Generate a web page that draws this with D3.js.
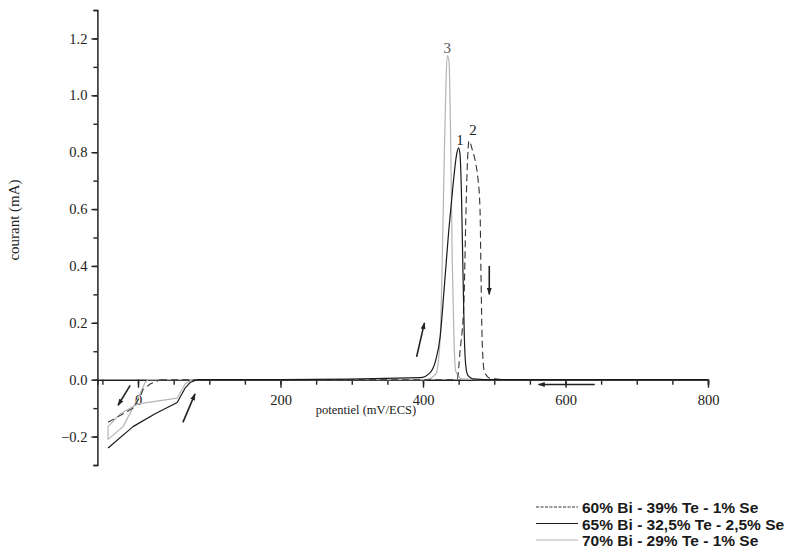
<!DOCTYPE html>
<html><head><meta charset="utf-8">
<script src="https://cdn.jsdelivr.net/npm/d3@7/dist/d3.min.js"></script>
<style>
html,body{margin:0;padding:0;background:#fff;}
svg{display:block;}
.ax text{font-family:"Liberation Serif","Times New Roman",serif;font-size:14.5px;fill:#222;}
</style></head>
<body><svg id="chart" width="799" height="554"></svg>
<script>
// ---- data (mV vs ECS, mA) ----
// cathodic region (negative currents near 0 mV)
const curve1NegPotential = [-42, -7, 24, 55, 66, 73, 83];
const curve1NegCurrent   = [-0.24, -0.165, -0.12, -0.08, -0.03, -0.01, 0];
const curve2NegPotential = [-42, -7, 3, 7, 17, 31];
const curve2NegCurrent   = [-0.15, -0.10, -0.06, -0.035, -0.015, 0];
const curve3NegPotential = [76, 66, 55, 0, -25, -42, -42, -21, -1, 10, 14];
const curve3NegCurrent   = [0, -0.015, -0.065, -0.085, -0.12, -0.165, -0.21, -0.165, -0.07, -0.01, 0];

// anodic stripping peaks
const curve1PeakPotential = [83, 200, 396, 410, 418, 424, 430, 436, 442, 447, 450, 452, 454, 456, 458, 460, 463, 470, 500, 800];
const curve1PeakCurrent   = [0, 0, 0.007, 0.025, 0.07, 0.15, 0.33, 0.52, 0.68, 0.79, 0.815, 0.79, 0.65, 0.39, 0.15, 0.05, 0.015, 0.003, 0, 0];
const curve2PeakPotential = [31, 200, 440, 448, 452, 457.5, 460, 462, 464.6, 469, 474, 477, 480, 481.5, 483, 486, 494, 520, 800];
const curve2PeakCurrent   = [0, 0, 0, 0.003, 0.10, 0.28, 0.56, 0.74, 0.84, 0.81, 0.76, 0.71, 0.60, 0.35, 0.14, 0.03, 0.005, 0, 0];
const curve3PeakPotential = [14, 200, 403, 418, 424, 427, 429.5, 432, 434, 436.5, 439, 441, 443.5, 446, 455, 500, 800];
const curve3PeakCurrent   = [0, 0, 0, 0.02, 0.14, 0.42, 0.74, 1.02, 1.14, 1.12, 0.81, 0.42, 0.14, 0.03, 0.003, 0, 0];

const legendLabels = ["60% Bi - 39% Te - 1% Se", "65% Bi - 32,5% Te - 2,5% Se", "70% Bi - 29% Te - 1% Se"];
const peakLabels = ["1", "2", "3"];
const xMajorTicks = [0, 200, 400, 600, 800];
const yMajorTicks = [-0.2, 0.0, 0.2, 0.4, 0.6, 0.8, 1.0, 1.2];

// ---- layout ----
const svg = d3.select("#chart");
const x = d3.scaleLinear().domain([-57, 800]).range([97.4, 708]);
const y = d3.scaleLinear().domain([-0.3, 1.3]).range([465, 10]);

const styles = [
  {stroke:"#333", width:1.1, dash:"7,4"},   // curve 2 / legend 1
  {stroke:"#1a1a1a", width:1.2, dash:null}, // curve 1 / legend 2
  {stroke:"#b5b5b5", width:1.2, dash:null}  // curve 3 / legend 3
];

// axes
const xMinor = d3.range(-50, 801, 50);
const gxMinor = svg.append("g").attr("class","ax").attr("transform",`translate(0,${y(0)})`)
  .call(d3.axisBottom(x).tickValues(xMinor).tickSize(5).tickFormat(""));
const gx = svg.append("g").attr("class","ax").attr("transform",`translate(0,${y(0)})`)
  .call(d3.axisBottom(x).tickValues(xMajorTicks).tickSize(8).tickPadding(7).tickFormat(d3.format("d")));
[gxMinor, gx].forEach(g=>{g.selectAll("path").attr("stroke","#222").attr("stroke-width",1.5);
  g.selectAll("line").attr("stroke","#222").attr("stroke-width",1.4);});
gx.select(".domain").remove();

const yMinor = d3.range(-3, 14).map(i=>i/10);
const gyMinor = svg.append("g").attr("class","ax").attr("transform",`translate(${x(-57)},0)`)
  .call(d3.axisLeft(y).tickValues(yMinor).tickSize(4).tickFormat(""));
const gy = svg.append("g").attr("class","ax").attr("transform",`translate(${x(-57)},0)`)
  .call(d3.axisLeft(y).tickValues(yMajorTicks).tickSize(6).tickPadding(4).tickFormat(d3.format(".1f")));
[gyMinor, gy].forEach(g=>{g.selectAll("path").attr("stroke","#222").attr("stroke-width",1.5);
  g.selectAll("line").attr("stroke","#222").attr("stroke-width",1.4);});
gy.select(".domain").remove();

// axis titles
svg.append("text").attr("x", 366).attr("y", 414).attr("text-anchor","middle")
  .style("font-family","'Liberation Serif','Times New Roman',serif").style("font-size","12.5px").attr("fill","#222")
  .text("potentiel (mV/ECS)");
svg.append("text").attr("transform","translate(19,220) rotate(-90)").attr("text-anchor","middle")
  .style("font-family","'Liberation Serif','Times New Roman',serif").style("font-size","15px").attr("fill","#222")
  .text("courant (mA)");

// curves
const negLine = d3.line().x(d=>x(d[0])).y(d=>y(d[1]));
const peakLine = d3.line().x(d=>x(d[0])).y(d=>y(d[1])).curve(d3.curveMonotoneX);
const curves = [
  {np:curve3NegPotential, nc:curve3NegCurrent, pp:curve3PeakPotential, pc:curve3PeakCurrent, s:styles[2]},
  {np:curve2NegPotential, nc:curve2NegCurrent, pp:curve2PeakPotential, pc:curve2PeakCurrent, s:styles[0]},
  {np:curve1NegPotential, nc:curve1NegCurrent, pp:curve1PeakPotential, pc:curve1PeakCurrent, s:styles[1]}
];
curves.forEach(cv=>{
  [[negLine, d3.zip(cv.np, cv.nc)], [peakLine, d3.zip(cv.pp, cv.pc)]].forEach(([gen, pts])=>{
    svg.append("path").datum(pts).attr("d", gen)
      .attr("fill","none").attr("stroke",cv.s.stroke).attr("stroke-width",cv.s.width)
      .attr("stroke-dasharray",cv.s.dash).attr("stroke-linejoin","round");
  });
});

// peak labels
const peakLabelPos = [[452, 0.825], [470, 0.86], [434, 1.15]];
peakLabels.forEach((t,i)=>{
  svg.append("text").attr("x", x(peakLabelPos[i][0])).attr("y", y(peakLabelPos[i][1]))
    .attr("text-anchor","middle").style("font-family","'Liberation Serif',serif").style("font-size","15px")
    .attr("fill", i===2 ? "#555" : "#222").text(t);
});

// arrows (data coordinates)
const arrows = [
  [[391, 0.08], [402, 0.20]],
  [[493, 0.40], [493, 0.30]],
  [[641, -0.017], [562, -0.017]],
  [[63, -0.15], [80, -0.05]],
  [[-11, -0.02], [-28, -0.09]]
];
svg.append("defs").append("marker").attr("id","ah").attr("viewBox","0 0 10 10")
  .attr("refX",9).attr("refY",5).attr("markerWidth",7).attr("markerHeight",7)
  .attr("orient","auto").attr("markerUnits","userSpaceOnUse")
  .append("path").attr("d","M0,1.5 L10,5 L0,8.5 Z").attr("fill","#222");
arrows.forEach(a=>{
  svg.append("line").attr("x1",x(a[0][0])).attr("y1",y(a[0][1])).attr("x2",x(a[1][0])).attr("y2",y(a[1][1]))
    .attr("stroke","#222").attr("stroke-width",1.6).attr("marker-end","url(#ah)");
});

// legend
legendLabels.forEach((t,i)=>{
  const yy = 507 + i*16.5;
  svg.append("line").attr("x1",536).attr("x2",578).attr("y1",yy).attr("y2",yy)
    .attr("stroke",styles[i].stroke).attr("stroke-width",1.1)
    .attr("stroke-dasharray", i===0 ? "3,1.5" : null);
  svg.append("text").attr("x",582).attr("y",yy+6)
    .style("font-family","'Liberation Sans',Arial,sans-serif").style("font-size","15.5px").style("font-weight","bold")
    .attr("fill","#1a1a1a").text(t);
});
</script></body></html>
